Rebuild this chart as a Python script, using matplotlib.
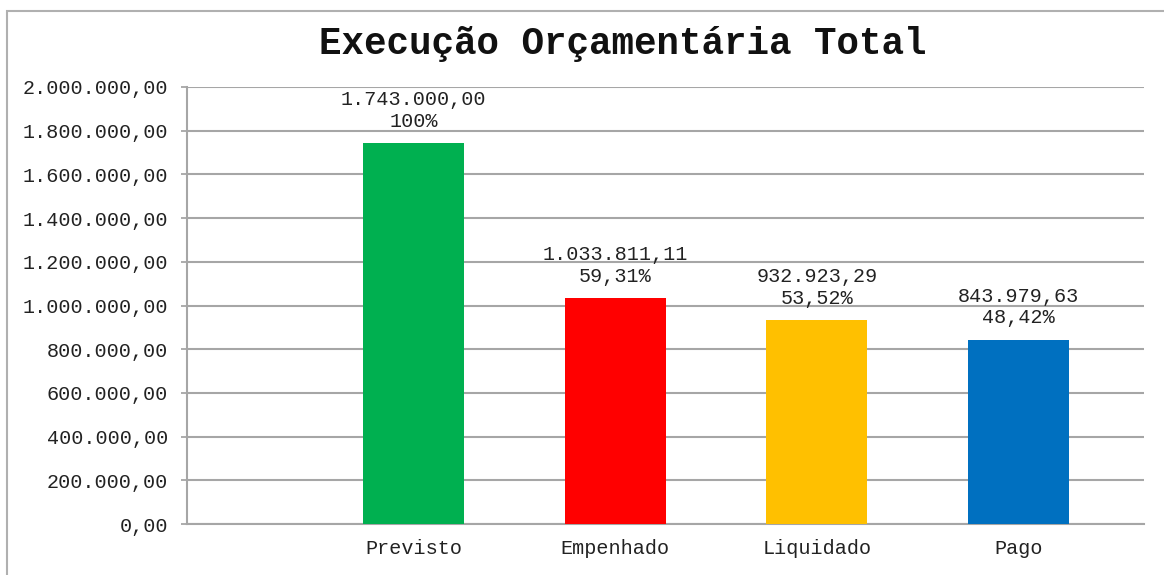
import matplotlib
matplotlib.use("Agg")
import matplotlib.pyplot as plt
from matplotlib.patches import Rectangle

categories = ["Previsto", "Empenhado", "Liquidado", "Pago"]
values = [1743000.00, 1033811.11, 932923.29, 843979.63]
pct_labels = ["100%", "59,31%", "53,52%", "48,42%"]
bar_colors = ["#00B050", "#FF0000", "#FFC000", "#0070C0"]
y_ticks = [0, 200000, 400000, 600000, 800000, 1000000, 1200000, 1400000, 1600000, 1800000, 2000000]


def br_format(v):
    s = f"{v:,.2f}"
    return s.replace(",", "X").replace(".", ",").replace("X", ".")


plt.rcParams["font.family"] = ["Liberation Mono", "DejaVu Sans Mono"]
text_color = "#222222"
grid_color = "#A6A6A6"

fig = plt.figure(figsize=(11.64, 5.75), dpi=100)
ax = fig.add_axes([187 / 1164, 1 - 524 / 575, (1144 - 187) / 1164, (524 - 87) / 575])

positions = list(range(1, len(categories) + 1))
bars = ax.bar(positions, values, width=0.5, color=bar_colors, zorder=3)

for bar, v, p in zip(bars, values, pct_labels):
    ax.annotate(f"{br_format(v)}\n{p}",
                xy=(bar.get_x() + bar.get_width() / 2, bar.get_height()),
                xytext=(0, 9), textcoords="offset points",
                ha="center", va="bottom", fontsize=14.5, color=text_color,
                linespacing=1.15, zorder=4)

ax.set_xlim(-0.123, 4.622)
ax.set_ylim(0, 2000000)
ax.set_yticks(y_ticks)
ax.set_yticklabels([br_format(t) for t in y_ticks], fontsize=14.5, color=text_color)
ax.set_xticks(positions)
ax.set_xticklabels(categories, fontsize=14.5, color=text_color)
ax.tick_params(axis="x", length=0, pad=11)
ax.tick_params(axis="y", length=4.5, width=1.3, color=grid_color, pad=9)

ax.grid(axis="y", color=grid_color, linewidth=1.5, zorder=0)
for side in ["top", "right"]:
    ax.spines[side].set_visible(False)
ax.spines["left"].set_color(grid_color)
ax.spines["left"].set_linewidth(1.5)
ax.spines["bottom"].set_color(grid_color)
ax.spines["bottom"].set_linewidth(1.5)

fig.text(623 / 1164, 1 - 44 / 575, "Execução Orçamentária Total",
         ha="center", va="center", fontsize=27, fontweight="bold", color="#111111")

# outer chart frame (cropped on right and bottom in the source)
fig.patches.append(Rectangle((7 / 1164, -0.2), 1.2, 1.2 - 10.5 / 575,
                             transform=fig.transFigure, fill=False,
                             edgecolor="#B0B0B0", linewidth=1.5))

fig.savefig("out.png", dpi=100)
